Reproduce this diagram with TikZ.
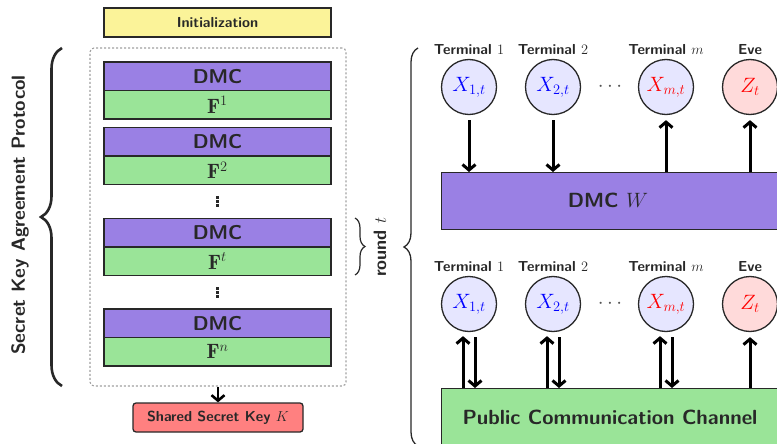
\documentclass[tikz,border=0pt]{standalone}
\usepackage{fontspec}
\usetikzlibrary{arrows.meta,decorations.pathreplacing,calc}
\definecolor{dmcpurple}{RGB}{154,128,228}
\definecolor{fgreen}{RGB}{154,228,152}
\definecolor{inityellow}{RGB}{251,243,153}
\definecolor{keyred}{RGB}{255,128,128}
\definecolor{termblue}{RGB}{230,230,255}
\definecolor{evered}{RGB}{255,218,218}
\definecolor{ink}{RGB}{40,40,40}
\begin{document}
\begin{tikzpicture}[x=1pt,y=-1pt,
  box/.style={draw=ink, line width=1.3pt, minimum width=227pt, inner sep=0pt, text=ink},
  dmcbox/.style={box, fill=dmcpurple, minimum height=28.5pt, font=\sffamily\bfseries\fontsize{20}{22}\selectfont},
  fbox/.style={box, fill=fgreen, minimum height=28.5pt, font=\fontsize{20.74}{23}\selectfont},
  small/.style={font=\sffamily\bfseries\fontsize{14.5}{16}\selectfont, text=ink},
  term/.style={circle, draw=ink, line width=1.3pt, minimum size=55pt, inner sep=0pt, fill=termblue, font=\fontsize{20.74}{23}\selectfont},
  eve/.style={term, fill=evered},
  big/.style={draw=ink, line width=1.3pt, inner sep=0pt, font=\sffamily\bfseries\fontsize{20.5}{23}\selectfont, text=ink},
  arr/.style={line width=3pt, -{Straight Barb[length=5.5pt,width=13pt]}},
  brc/.style={decorate, decoration={brace, amplitude=#1}},
  vdotsq/.style={fill=ink},
  hdot/.style={inner sep=0pt, font=\fontsize{20.74}{23}\selectfont, text=ink!80},
]
\useasboundingbox (0,0) rectangle (777,444);
\clip (0,0) rectangle (777,444);

% ---------------- left column ----------------
\node[box, fill=inityellow, minimum height=29pt, small] (init) at (217.5,22.5) {Initialization};

\node[draw=gray!75, dash pattern=on 2pt off 2pt, line width=1.1pt, rounded corners=4pt, minimum width=256pt, minimum height=338pt] (frame) at (218,217) {};

\node[dmcbox] (d1) at (217.5,76.25) {DMC};
\node[fbox]   (f1) at (217.5,104.75) {$\mathbf{F}^{1}$};
\node[dmcbox] (d2) at (217.5,141.75) {DMC};
\node[fbox]   (f2) at (217.5,170.25) {$\mathbf{F}^{2}$};
\coordinate (v1) at (217.5,201.5);
\foreach \dy in {-4,0,4} \fill[vdotsq] ($(v1)+(-1.4,\dy-1.4)$) rectangle ++(2.8,2.8);
\node[dmcbox] (dt) at (217.5,232.75) {DMC};
\node[fbox]   (ft) at (217.5,261.25) {$\mathbf{F}^{t}$};
\coordinate (v2) at (217.5,292.5);
\foreach \dy in {-4,0,4} \fill[vdotsq] ($(v2)+(-1.4,\dy-1.4)$) rectangle ++(2.8,2.8);
\node[dmcbox] (dn) at (217.5,323.25) {DMC};
\node[fbox]   (fn) at (217.5,351.75) {$\mathbf{F}^{n}$};

\node[draw=ink, line width=1.3pt, fill=keyred, rounded corners=3pt, minimum width=170pt, minimum height=29pt, inner sep=0pt, small] (key) at (218,417.5) {Shared Secret Key $K$};
\draw[arr, line width=2.6pt] (frame.south) -- (key.north);

% braces
\draw[brc=21pt, line width=2.6pt, ink] (62,386) -- (62,48);
\node[rotate=90, font=\sffamily\bfseries\fontsize{19}{21}\selectfont, text=ink] (skap) at (20,215) {Secret Key Agreement Protocol};

\draw[brc=10pt, line width=1.2pt, ink] (355,218) -- (355,275);
\node[rotate=90, font=\sffamily\bfseries\fontsize{18}{20}\selectfont, text=ink] (rnd) at (380,247) {round $t$};

\draw[brc=14pt, line width=1.3pt, ink] (418,446) -- (418,48);

% ---------------- right top ----------------
\node[term] (a1) at (469,87) {\color{blue}$X_{1,t}$};
\node[term] (a2) at (553,87) {\color{blue}$X_{2,t}$};
\node[term] (am) at (666,87) {\color{red}$X_{m,t}$};
\node[eve]  (ae) at (750,87) {\color{red}$Z_{t}$};
\node[hdot] (adots) at (610,87) {$\cdots$};
\node[small] (la1) at (469,50) {Terminal $1$};
\node[small] (la2) at (553,50) {Terminal $2$};
\node[small] (lam) at (666,50) {Terminal $m$};
\node[small] (lae) at (750,50) {Eve};

\node[big, fill=dmcpurple, minimum width=360pt, minimum height=57pt, anchor=north west] (dmcw) at (441,172) {};
\node[font=\sffamily\bfseries\fontsize{20.5}{23}\selectfont, text=ink] (dmcwl) at (608,200) {DMC $W$};

\draw[arr, shorten <=5pt] (a1.south) -- (a1.south |- dmcw.north);
\draw[arr, shorten <=5pt] (a2.south) -- (a2.south |- dmcw.north);
\draw[arr, shorten >=5pt] (am.south |- dmcw.north) -- (am.south);
\draw[arr, shorten >=5pt] (ae.south |- dmcw.north) -- (ae.south);

% ---------------- right bottom ----------------
\node[term] (b1) at (469,304) {\color{blue}$X_{1,t}$};
\node[term] (b2) at (553,304) {\color{blue}$X_{2,t}$};
\node[term] (bm) at (666,304) {\color{red}$X_{m,t}$};
\node[eve]  (be) at (750,304) {\color{red}$Z_{t}$};
\node[hdot] (bdots) at (610,304) {$\cdots$};
\node[small] (lb1) at (469,267) {Terminal $1$};
\node[small] (lb2) at (553,267) {Terminal $2$};
\node[small] (lbm) at (666,267) {Terminal $m$};
\node[small] (lbe) at (750,267) {Eve};

\node[big, fill=fgreen, minimum width=360pt, minimum height=80pt, anchor=north west] (pcc) at (441,388) {};
\node[font=\sffamily\bfseries\fontsize{20.5}{23}\selectfont, text=ink] (pccl) at (610,417) {Public Communication Channel};

\foreach \c in {b1,b2,bm}{
  \draw[arr, shorten >=4pt] ([xshift=-6pt]\c.south |- pcc.north) -- ([xshift=-6pt]\c.south);
  \draw[arr, shorten <=5pt] ([xshift=6pt]\c.south) -- ([xshift=6pt]\c.south |- pcc.north);
}
\draw[arr, shorten >=5pt] (be.south |- pcc.north) -- (be.south);
\end{tikzpicture}
\end{document}
